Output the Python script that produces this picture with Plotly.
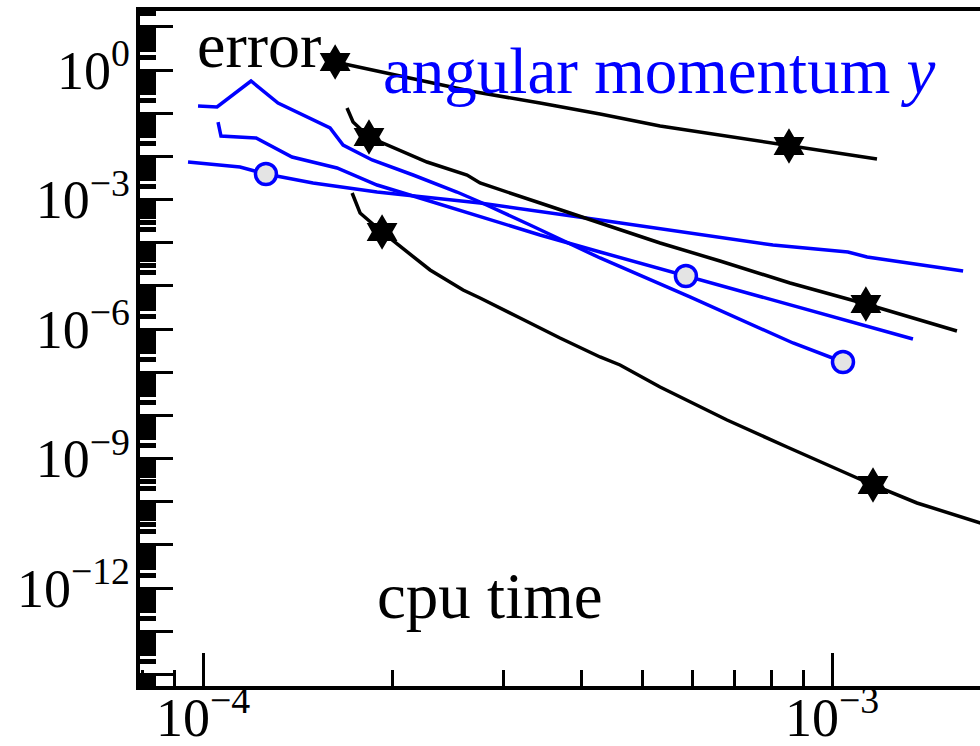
import plotly.graph_objects as go

# ---- data (cpu time vs error) ----
top_x = [1.622e-4, 2.057e-4, 2.658e-4, 3.434e-4, 4.278e-4, 5.329e-4, 6.637e-4, 8.543e-4, 1.179e-3]
top_y = [1.532, 0.726, 0.3263, 0.172, 0.0957, 0.0504, 0.0312, 0.01736, 0.00868]
top_marks = [0, 7]

mid_x = [1.694e-4, 1.732e-4, 1.836e-4, 1.961e-4, 2.270e-4, 2.629e-4, 2.757e-4, 3.434e-4,
         4.278e-4, 5.329e-4, 6.637e-4, 8.575e-4, 1.132e-3, 1.580e-3]
mid_y = [0.1317, 0.0624, 0.02805, 0.01831, 0.00739, 0.003696, 0.002412, 8.30e-4,
         2.857e-4, 9.83e-5, 3.764e-5, 1.164e-5, 3.80e-6, 9.00e-7]
mid_marks = [2, 12]

bot_x = [1.726e-4, 1.777e-4, 1.926e-4, 2.110e-4, 2.296e-4, 2.591e-4, 2.757e-4, 3.192e-4, 3.694e-4,
         4.278e-4, 4.603e-4, 5.329e-4, 6.810e-4, 8.483e-4, 1.162e-3, 1.365e-3, 1.783e-3]
bot_y = [1.415e-3, 4.87e-4, 1.768e-4, 6.08e-5, 2.330e-5, 8.01e-6, 5.23e-6, 1.800e-6, 6.19e-7,
         2.248e-7, 1.467e-7, 4.54e-8, 7.81e-9, 1.849e-9, 2.436e-10, 9.33e-11, 2.735e-11]
bot_marks = [2, 14]

blueC_x = [9.466e-5, 1.145e-4, 1.259e-4, 1.496e-4, 1.891e-4, 2.757e-4, 4.278e-4, 8.056e-4, 1.060e-3, 1.137e-3, 1.616e-3]
blueC_y = [7.39e-3, 5.66e-3, 3.90e-3, 2.412e-3, 1.493e-3, 8.30e-4, 3.353e-4, 8.84e-5, 6.08e-5, 4.66e-5, 2.208e-5]
blueC_marks = [2]

blueA_x = [9.819e-5, 1.0526e-4, 1.192e-4, 1.316e-4, 1.592e-4, 1.670e-4, 1.857e-4, 2.158e-4, 2.533e-4,
           2.757e-4, 3.311e-4, 4.278e-4, 5.944e-4, 8.670e-4, 1.041e-3]
blueA_y = [0.1466, 0.1390, 0.5563, 0.172, 0.04534, 0.01831, 0.00823, 0.003696, 1.493e-3,
           8.76e-4, 2.568e-4, 4.42e-5, 5.52e-6, 4.745e-7, 1.722e-7]
blueA_marks = [14]

blueB_x = [1.0565e-4, 1.0680e-4, 1.2144e-4, 1.3852e-4, 1.633e-4, 1.891e-4, 2.158e-4, 2.757e-4,
           3.434e-4, 4.278e-4, 5.858e-4, 8.893e-4, 1.345e-3]
blueB_y = [0.0624, 0.02959, 0.02660, 0.00965, 5.37e-3, 2.168e-3, 1.206e-3, 3.935e-4,
           1.506e-4, 6.08e-5, 1.691e-5, 3.07e-6, 5.87e-7]
blueB_marks = [10]

y_label_exps = [0, -3, -6, -9, -12]
y_decades = list(range(-15, 2))
x_decades = [-5, -4, -3, -2]

FONT = "Liberation Serif, Times New Roman, serif"
BLACK = "#000000"
BLUE = "#0000ff"
YRANGE = [-14.27, 1.367]

fig = go.Figure()

def add_series(xs, ys, marks, color, symbol, msize, fill, mline):
    fig.add_trace(go.Scatter(x=xs, y=ys, mode="lines",
                             line=dict(color=color, width=3.5), showlegend=False, hoverinfo="skip"))
    fig.add_trace(go.Scatter(x=[xs[i] for i in marks], y=[ys[i] for i in marks], mode="markers",
                             marker=dict(symbol=symbol, size=msize, color=fill,
                                         line=dict(color=color, width=mline)),
                             showlegend=False, hoverinfo="skip"))

add_series(blueC_x, blueC_y, blueC_marks, BLUE, "circle", 21, "#e4e4e4", 3.5)
add_series(blueA_x, blueA_y, blueA_marks, BLUE, "circle", 21, "#e4e4e4", 3.5)
add_series(blueB_x, blueB_y, blueB_marks, BLUE, "circle", 21, "#e4e4e4", 3.5)
add_series(top_x, top_y, top_marks, BLACK, "hexagram", 27, BLACK, 0)
add_series(mid_x, mid_y, mid_marks, BLACK, "hexagram", 27, BLACK, 0)
add_series(bot_x, bot_y, bot_marks, BLACK, "hexagram", 27, BLACK, 0)

# invisible trace so the label axis (y2) is drawn
fig.add_trace(go.Scatter(x=[top_x[0]], y=[top_y[0]], yaxis="y2", mode="markers",
                         marker=dict(opacity=0), showlegend=False, hoverinfo="skip"))

def sup(e):
    return "10<sup>" + ("\u2212" + str(-e) if e < 0 else str(e)) + "</sup>"

y_tickvals = [10.0 ** k for k in y_decades]
y_minor = [m * 10.0 ** k for k in y_decades for m in range(2, 10)]
y_label_vals = [10.0 ** k for k in y_label_exps]
y_label_text = [sup(k) for k in y_label_exps]

x_tickvals = [10.0 ** k for k in x_decades]
x_ticktext = [sup(k) for k in x_decades]
x_minor = [m * 10.0 ** k for k in x_decades for m in range(2, 10)]

fig.update_layout(
    width=980, height=746,
    margin=dict(l=140, r=0, t=11, b=60, autoexpand=False),
    paper_bgcolor="white", plot_bgcolor="white",
    font=dict(family=FONT, size=54, color="black"),
    xaxis=dict(type="log", range=[-4.1002, -2.7647], automargin=False,
               tickmode="array", tickvals=x_tickvals, ticktext=x_ticktext,
               ticks="inside", ticklen=33, tickwidth=3, tickcolor="black",
               ticklabelstandoff=-19,
               minor=dict(tickmode="array", tickvals=x_minor, ticks="inside", ticklen=16,
                          tickwidth=3, tickcolor="black", showgrid=False),
               showline=True, linecolor="black", linewidth=4, mirror=True,
               showgrid=False, zeroline=False,
               tickfont=dict(family=FONT, size=54, color="black")),
    yaxis=dict(type="log", range=YRANGE, automargin=False,
               tickmode="array", tickvals=y_tickvals, showticklabels=False,
               ticks="inside", ticklen=33, tickwidth=3, tickcolor="black",
               minor=dict(tickmode="array", tickvals=y_minor, ticks="inside", ticklen=16,
                          tickwidth=4.5, tickcolor="black", showgrid=False),
               showline=True, linecolor="black", linewidth=4, mirror=False,
               showgrid=False, zeroline=False),
    yaxis2=dict(type="log", range=YRANGE, overlaying="y", side="left", automargin=False,
                tickmode="array", tickvals=y_label_vals, ticktext=y_label_text,
                ticks="inside", ticklen=33, tickwidth=3, tickcolor="black",
                ticklabelstandoff=9,
                showline=False, showgrid=False, zeroline=False,
                tickfont=dict(family=FONT, size=54, color="black")),
)

fig.add_annotation(x=0.0655, y=0.9496, xref="paper", yref="paper", text="error",
                   showarrow=False, xanchor="left", yanchor="middle",
                   font=dict(family=FONT, size=64, color="black"))
fig.add_annotation(x=0.287, y=0.911, xref="paper", yref="paper",
                   text="angular momentum <i>y</i>",
                   showarrow=False, xanchor="left", yanchor="middle",
                   font=dict(family=FONT, size=65, color=BLUE))
fig.add_annotation(x=0.2798, y=0.133, xref="paper", yref="paper", text="cpu time",
                   showarrow=False, xanchor="left", yanchor="middle",
                   font=dict(family=FONT, size=65, color="black"))

fig.write_html("out.html")
